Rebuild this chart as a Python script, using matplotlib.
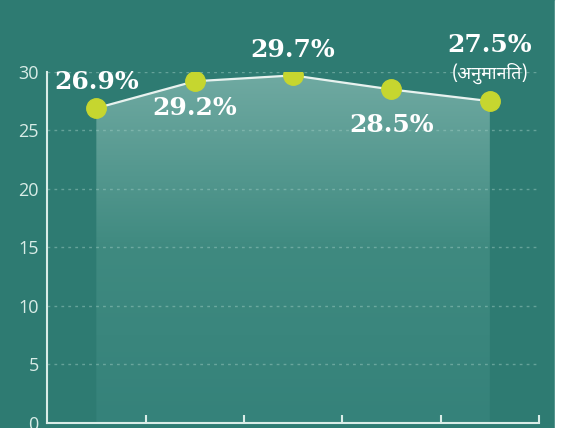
import numpy as np
import matplotlib.pyplot as plt
from matplotlib.patches import Rectangle

#data
share = [26.9, 29.2, 29.7, 28.5, 27.5]
labels = ['26.9%', '29.2%', '29.7%', '28.5%', '27.5%']
note = '(अनुमानित)'
yticks = [0, 5, 10, 15, 20, 25, 30]

bg = '#2e7b72'
dot = '#c6d62f'
tickc = '#d9ece7'

fig = plt.figure(figsize=(5.68, 4.28), dpi=100, facecolor=bg)
ax = fig.add_axes([0.083, 0.012, 0.866, 0.820])
ax.set_facecolor(bg)

x = np.arange(len(share)) + 0.5

#gradient fill under the line
poly = ax.fill_between(x, share, 0, color='none', lw=0)
grad = np.linspace(0.0, 1.0, 256).reshape(-1, 1)
cmap = plt.matplotlib.colors.LinearSegmentedColormap.from_list(
    'g', ['#35827a', '#3f8a80', '#70aaa2'])
im = ax.imshow(grad, cmap=cmap, aspect='auto', origin='lower',
               extent=[x[0], x[-1], 0, 30], zorder=1)
im.set_clip_path(poly.get_paths()[0], transform=ax.transData)

for yv in yticks[1:]:
    ax.axhline(yv, color='#9cc9c0', lw=1, ls=(0, (2, 3)), alpha=0.5, zorder=2)

ax.plot(x, share, color='#e8f2ef', lw=1.6, zorder=3)
ax.plot(x, share, 'o', color=dot, ms=14, zorder=4)

lab_font = dict(family='DejaVu Serif', weight='bold', color='white', size=18)
offs = [(0.0, 2.2), (0.0, -2.3), (0.0, 2.2), (0.0, -3.0), (0.0, 4.8)]
for xi, yi, t, (dx, dy) in zip(x, share, labels, offs):
    ax.text(xi + dx, yi + dy, t, ha='center', va='center', zorder=5, **lab_font)
ax.text(x[-1], share[-1] + 2.4, note, ha='center', va='center', color='white',
        size=13, style='italic', zorder=5,
        family=['Noto Sans Devanagari', 'Noto Sans', 'DejaVu Sans'])

ax.set_xlim(0, 5)
ax.set_ylim(0, 30)
ax.set_yticks(yticks)
ax.set_xticks([1, 2, 3, 4, 5])
ax.set_xticklabels([])
ax.tick_params(axis='y', length=0, labelcolor=tickc, labelsize=13, pad=6)
ax.tick_params(axis='x', direction='in', length=6, width=1.5, color=tickc)
for lab in ax.get_yticklabels():
    lab.set_family('Open Sans')
for s in ['top', 'right']:
    ax.spines[s].set_visible(False)
for s in ['left', 'bottom']:
    ax.spines[s].set_color(tickc)
    ax.spines[s].set_linewidth(1.5)

#white strip on the right edge
fig.patches.append(Rectangle((0.977, 0), 0.03, 1, transform=fig.transFigure,
                             color='white', zorder=10))

fig.savefig('out.png', facecolor=bg)
